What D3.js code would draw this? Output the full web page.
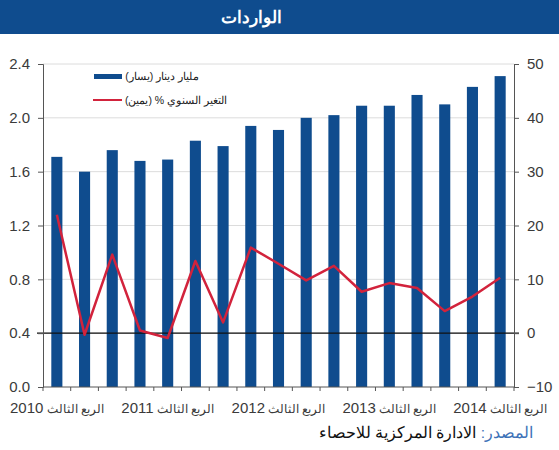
<!DOCTYPE html>
<html>
<head>
<meta charset="utf-8">
<script src="https://cdn.jsdelivr.net/npm/d3@7"></script>
<style>
  body { margin: 0; background: #fff; font-family: "Liberation Sans", Arial, sans-serif; }
  .axis text { fill: #3a3a3a; font-size: 15px; font-family: "Liberation Sans", Arial, sans-serif; }
  .axis path, .axis line { stroke: #555; }
</style>
</head>
<body>
<div id="chart"></div>
<script>
// quarterly imports (billion dinar, left) and annual change % (right)
var quarters = ["2010Q3", "2010Q4", "2011Q1", "2011Q2", "2011Q3", "2011Q4", "2012Q1", "2012Q2", "2012Q3",
    "2012Q4", "2013Q1", "2013Q2", "2013Q3", "2013Q4", "2014Q1", "2014Q2", "2014Q3"];
var imports = [1.71, 1.60, 1.76, 1.68, 1.69, 1.83, 1.79, 1.94, 1.91, 2.00, 2.02, 2.09, 2.09, 2.17, 2.10, 2.23, 2.31];
var change = [22.0, -0.3, 14.6, 0.5, -0.9, 13.4, 2.0, 15.9, 12.9, 9.8, 12.5, 7.7, 9.3, 8.4, 4.1, 6.8, 10.3];
var labelYears = { "2010Q3": "2010", "2011Q3": "2011", "2012Q3": "2012", "2013Q3": "2013", "2014Q3": "2014" };
var leftTicks = [0, 0.4, 0.8, 1.2, 1.6, 2.0, 2.4];
var rightTicks = [-10, 0, 10, 20, 30, 40, 50];

var W = 559, H = 450;
var margin = { top: 64, left: 43, right: 45, bottom: 63 };
var width = W - margin.left - margin.right,
    height = H - margin.top - margin.bottom;

var svg = d3.select("#chart").append("svg")
    .attr("width", W)
    .attr("height", H);

// title band
svg.append("rect")
    .attr("x", 0).attr("y", 0)
    .attr("width", W).attr("height", 34)
    .attr("fill", "#0f4c8e");
svg.append("text")
    .attr("x", 251).attr("y", 23)
    .attr("text-anchor", "middle")
    .attr("fill", "#fff")
    .style("font-size", "17px")
    .style("font-weight", "bold")
    .text("الواردات");

var chart = svg.append("g")
    .attr("transform", `translate(${margin.left},${margin.top})`);

var x = d3.scaleBand().domain(quarters).range([0, width]).paddingInner(0.6).paddingOuter(0.3);
var y = d3.scaleLinear().domain([0, 2.4]).range([height, 0]);
var y2 = d3.scaleLinear().domain([-10, 50]).range([height, 0]);

// grid
chart.append("g")
    .selectAll("line")
    .data(leftTicks.slice(1))
    .enter().append("line")
    .attr("x1", 0).attr("x2", width)
    .attr("y1", d => y(d)).attr("y2", d => y(d))
    .attr("stroke", "#dcdcdc");

// bars
chart.selectAll(".bar")
    .data(imports)
    .enter().append("rect")
    .attr("class", "bar")
    .attr("x", (d, i) => x(quarters[i]))
    .attr("width", x.bandwidth())
    .attr("y", d => y(d))
    .attr("height", d => height - y(d))
    .attr("fill", "#0f4c8e");

// zero line of the right axis
chart.append("line")
    .attr("x1", -6).attr("x2", width + 5)
    .attr("y1", y2(0)).attr("y2", y2(0))
    .attr("stroke", "#111")
    .attr("stroke-width", 1.2);

// change line
var line = d3.line()
    .x((d, i) => x(quarters[i]) + x.bandwidth() / 2)
    .y(d => y2(d));
chart.append("path")
    .datum(change)
    .attr("d", line)
    .attr("fill", "none")
    .attr("stroke", "#d2233c")
    .attr("stroke-width", 2.5)
    .attr("stroke-linejoin", "round");

// axes
chart.append("g")
    .attr("class", "axis")
    .call(d3.axisLeft(y).tickValues(leftTicks).tickFormat(d3.format(".1f")).tickSize(5).tickPadding(8));

chart.append("g")
    .attr("class", "axis")
    .attr("transform", `translate(${width},0)`)
    .call(d3.axisRight(y2).tickValues(rightTicks).tickSize(5).tickPadding(8));

// x axis with ticks on category boundaries
var xAxis = chart.append("g")
    .attr("class", "axis")
    .attr("transform", `translate(0,${height})`);
xAxis.append("line")
    .attr("x1", 0).attr("x2", width)
    .attr("stroke", "#555");
var step = x.step();
xAxis.selectAll(".tick")
    .data(d3.range(quarters.length + 1))
    .enter().append("line")
    .attr("x1", i => x(quarters[0]) - step * x.paddingInner() / 2 + i * step)
    .attr("x2", i => x(quarters[0]) - step * x.paddingInner() / 2 + i * step)
    .attr("y1", 0).attr("y2", 4)
    .attr("stroke", "#555");

var lab = xAxis.selectAll(".xlab")
    .data(quarters.filter(q => labelYears[q]))
    .enter().append("text")
    .attr("x", q => x(q) + x.bandwidth() / 2)
    .attr("y", 26)
    .attr("direction", "rtl")
    .attr("text-anchor", "middle")
    .attr("fill", "#3a3a3a");
lab.append("tspan").style("font-size", "11.5px").text("الربع الثالث ");
lab.append("tspan").style("font-size", "15px").text(q => labelYears[q]);

// legend
var legend = chart.append("g");
legend.append("rect")
    .attr("x", 51).attr("y", 10)
    .attr("width", 28).attr("height", 5)
    .attr("fill", "#0f4c8e");
legend.append("text")
    .attr("x", 156).attr("y", 16)
    .attr("direction", "rtl")
    .attr("text-anchor", "start")
    .attr("fill", "#222")
    .style("font-size", "10.5px")
    .text("مليار دينار (يسار)");
legend.append("line")
    .attr("x1", 50).attr("x2", 79)
    .attr("y1", 36).attr("y2", 36)
    .attr("stroke", "#d2233c")
    .attr("stroke-width", 2);
legend.append("text")
    .attr("x", 184).attr("y", 40)
    .attr("direction", "rtl")
    .attr("text-anchor", "start")
    .attr("fill", "#222")
    .style("font-size", "10.5px")
    .text("التغير السنوي % (يمين)");

// source
var src = svg.append("text")
    .attr("x", 533).attr("y", 438)
    .attr("direction", "rtl")
    .attr("text-anchor", "start")
    .style("font-size", "15.5px");
src.append("tspan").attr("fill", "#3d72b8").text("المصدر: ");
src.append("tspan").attr("fill", "#111").text("الادارة المركزية للاحصاء");
</script>
</body>
</html>
